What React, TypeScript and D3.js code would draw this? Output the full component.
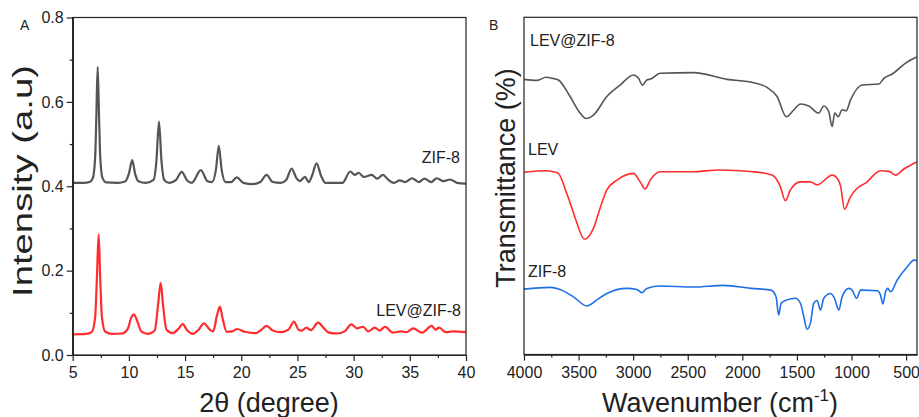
import React, { useEffect, useRef } from "react";
import * as d3 from "d3";

// XRD patterns (2theta, intensity a.u.)
const xrdZif8: [number, number][] = [
  [5.0, 0.408], [6.0, 0.408], [6.5, 0.41], [6.8, 0.42], [7.0, 0.47], [7.1, 0.56], [7.22, 0.683],
  [7.35, 0.56], [7.45, 0.47], [7.65, 0.42], [8.0, 0.409], [9.0, 0.408], [9.7, 0.412], [10.0, 0.43],
  [10.3, 0.462], [10.55, 0.43], [10.85, 0.412], [11.5, 0.408], [12.2, 0.415], [12.45, 0.46],
  [12.68, 0.553], [12.9, 0.46], [13.15, 0.415], [13.6, 0.408], [14.2, 0.415], [14.7, 0.434],
  [15.2, 0.413], [15.6, 0.408], [16.4, 0.438], [17.0, 0.412], [17.4, 0.41], [17.75, 0.44],
  [18.0, 0.496], [18.25, 0.44], [18.6, 0.41], [19.1, 0.41], [19.6, 0.421], [20.2, 0.408],
  [21.0, 0.405], [21.7, 0.41], [22.25, 0.427], [22.8, 0.41], [23.5, 0.408], [24.0, 0.415],
  [24.48, 0.442], [24.9, 0.42], [25.2, 0.412], [25.67, 0.422], [26.0, 0.41], [26.3, 0.425],
  [26.7, 0.454], [27.1, 0.425], [27.5, 0.408], [29.0, 0.408], [29.7, 0.435], [30.1, 0.427],
  [30.45, 0.432], [30.9, 0.422], [31.6, 0.427], [32.1, 0.418], [32.6, 0.427], [33.1, 0.415],
  [33.6, 0.408], [34.1, 0.414], [34.6, 0.41], [35.2, 0.419], [35.8, 0.41], [36.3, 0.418],
  [36.9, 0.41], [37.4, 0.419], [38.0, 0.412], [38.6, 0.416], [39.2, 0.408], [40.0, 0.406],
];

const xrdLevZif8: [number, number][] = [
  [5.0, 0.049], [6.2, 0.05], [6.7, 0.055], [7.0, 0.09], [7.15, 0.18], [7.31, 0.286], [7.45, 0.18],
  [7.6, 0.09], [7.9, 0.055], [8.5, 0.05], [9.4, 0.051], [9.9, 0.062], [10.2, 0.088], [10.45, 0.0965],
  [10.75, 0.08], [11.1, 0.056], [11.7, 0.05], [12.3, 0.058], [12.6, 0.12], [12.83, 0.171],
  [13.05, 0.115], [13.35, 0.06], [13.9, 0.052], [14.4, 0.062], [14.79, 0.073], [15.2, 0.058],
  [15.7, 0.05], [16.2, 0.06], [16.68, 0.075], [17.2, 0.06], [17.5, 0.056], [17.85, 0.095],
  [18.1, 0.1145], [18.35, 0.085], [18.7, 0.055], [19.2, 0.056], [19.65, 0.0616], [20.3, 0.055],
  [21.3, 0.052], [21.8, 0.06], [22.26, 0.069], [22.8, 0.058], [23.5, 0.054], [24.2, 0.06],
  [24.69, 0.079], [25.1, 0.06], [25.4, 0.058], [25.8, 0.065], [26.2, 0.059], [26.84, 0.0766],
  [27.3, 0.065], [27.8, 0.053], [28.5, 0.051], [29.2, 0.056], [29.8, 0.0727], [30.3, 0.063],
  [30.85, 0.067], [31.3, 0.056], [31.9, 0.065], [32.3, 0.058], [32.8, 0.067], [33.5, 0.053],
  [34.2, 0.056], [34.7, 0.054], [35.3, 0.063], [36.1, 0.053], [36.94, 0.069], [37.3, 0.06],
  [37.6, 0.065], [38.2, 0.054], [38.8, 0.056], [40.0, 0.054],
];

// FTIR spectra (wavenumber cm-1, transmittance, offset)
const irLevZif8: [number, number][] = [
  [4000, 81.6], [3880, 81.3], [3800, 82.2], [3740, 81.9], [3685, 81.4], [3578, 76.5], [3486, 71.6],
  [3431, 70.0], [3364, 71.0], [3241, 76.5], [3119, 79.9], [2997, 82.9], [2951, 81.9], [2915, 79.9],
  [2875, 81.4], [2840, 81.7], [2752, 83.4], [2447, 83.6], [2141, 81.6], [1896, 80.6], [1774, 79.2],
  [1682, 76.5], [1596, 70.5], [1529, 72.5], [1468, 74.3], [1392, 73.7], [1300, 71.6], [1254, 73.7],
  [1208, 72.0], [1178, 67.6], [1153, 71.6], [1122, 70.5], [1086, 72.6], [1049, 72.3], [1009, 75.5],
  [902, 79.9], [749, 80.2], [703, 81.9], [627, 83.2], [504, 86.4], [404, 88.2],
];

const irLev: [number, number][] = [
  [4000, 54.0], [3880, 54.4], [3800, 54.5], [3720, 54.1], [3685, 53.7], [3609, 47.8], [3570, 44.3],
  [3525, 39.9], [3447, 34.2], [3364, 37.4], [3303, 43.4], [3241, 48.8], [3149, 51.7], [2997, 53.7],
  [2936, 51.2], [2890, 49.1], [2844, 51.7], [2752, 54.2], [2447, 54.2], [2217, 54.7], [1900, 54.2],
  [1728, 53.2], [1651, 49.7], [1606, 45.6], [1560, 48.8], [1468, 51.2], [1376, 51.2], [1315, 50.3],
  [1177, 53.2], [1131, 52.3], [1099, 49.8], [1064, 43.1], [1009, 46.8], [948, 49.3], [872, 50.8],
  [734, 54.5], [658, 54.3], [597, 53.2], [520, 55.0], [404, 57.1],
];

const irZif8: [number, number][] = [
  [4000, 19.4], [3761, 19.9], [3670, 19.3], [3547, 17.1], [3425, 14.4], [3333, 16.2], [3241, 18.1],
  [3058, 19.6], [2966, 19.3], [2920, 18.3], [2875, 19.6], [2752, 20.3], [2447, 20.0], [2171, 20.5],
  [1920, 19.6], [1737, 19.1], [1691, 17.1], [1667, 11.7], [1645, 15.2], [1590, 16.2], [1514, 16.7],
  [1468, 15.2], [1437, 11.2], [1407, 7.5], [1376, 9.3], [1346, 15.2], [1315, 16.0], [1284, 13.2],
  [1254, 16.7], [1193, 18.1], [1156, 16.7], [1116, 13.2], [1086, 17.1], [1025, 19.6], [994, 19.1],
  [954, 16.7], [917, 19.1], [765, 18.9], [734, 17.6], [713, 15.0], [688, 18.6], [667, 19.6],
  [642, 18.6], [581, 22.1], [489, 26.0], [428, 28.0], [404, 27.9],
];

const xrdTicksX = [5, 10, 15, 20, 25, 30, 35, 40];
const xrdMinorX = [7.5, 12.5, 17.5, 22.5, 27.5, 32.5, 37.5];
const xrdTicksY = [0, 0.2, 0.4, 0.6, 0.8];
const xrdMinorY = [0.1, 0.3, 0.5, 0.7];
const irTicksX = [4000, 3500, 3000, 2500, 2000, 1500, 1000, 500];
const irMinorX = [3750, 3250, 2750, 2250, 1750, 1250, 750];

const FONT = "'Liberation Sans', Arial, sans-serif";
const INK = "#222";

const App = () => {
  const ref = useRef<SVGSVGElement>(null);

  useEffect(() => {
    const svg = d3.select(ref.current);
    svg.selectAll("*").remove();

    const styleAxis = (g: any) => {
      g.selectAll("path,line").attr("stroke", INK).attr("stroke-width", 1.2);
      g.selectAll("text").attr("font-family", FONT).attr("font-size", 16).attr("fill", INK);
    };

    // ---------- Panel A ----------
    const xA = d3.scaleLinear().domain([5, 40]).range([72.7, 466]);
    const yA = d3.scaleLinear().domain([0, 0.8]).range([355, 17.5]);

    const lineA = d3
      .line<[number, number]>()
      .x((d) => xA(d[0]))
      .y((d) => yA(d[1]))
      .curve(d3.curveMonotoneX);

    const gA = svg.append("g");
    gA.append("path").attr("d", lineA(xrdZif8)).attr("fill", "none").attr("stroke", "#555").attr("stroke-width", 2.2);
    gA.append("path").attr("d", lineA(xrdLevZif8)).attr("fill", "none").attr("stroke", "#ff2d2d").attr("stroke-width", 2.2);

    gA.append("rect")
      .attr("x", xA(5)).attr("y", yA(0.8))
      .attr("width", xA(40) - xA(5)).attr("height", yA(0) - yA(0.8))
      .attr("fill", "none").attr("stroke", INK).attr("stroke-width", 1.2);

    gA.append("g").attr("transform", `translate(0,${yA(0)})`)
      .call(d3.axisBottom(xA).tickValues(xrdTicksX).tickSize(6).tickSizeOuter(0).tickPadding(6).tickFormat(d3.format("d")))
      .call(styleAxis);
    gA.append("g").attr("transform", `translate(0,${yA(0)})`)
      .call(d3.axisBottom(xA).tickValues(xrdMinorX).tickSize(3).tickSizeOuter(0).tickFormat(() => ""))
      .call(styleAxis);
    gA.append("g").attr("transform", `translate(${xA(5)},0)`)
      .call(d3.axisLeft(yA).tickValues(xrdTicksY).tickSize(6).tickSizeOuter(0).tickPadding(3).tickFormat(d3.format(".1f")))
      .call(styleAxis);
    gA.append("g").attr("transform", `translate(${xA(5)},0)`)
      .call(d3.axisLeft(yA).tickValues(xrdMinorY).tickSize(3).tickSizeOuter(0).tickFormat(() => ""))
      .call(styleAxis);

    gA.append("text").text("A").attr("x", 20).attr("y", 30)
      .attr("font-family", FONT).attr("font-size", 14).attr("fill", INK);
    gA.append("text").text("ZIF-8").attr("x", 460).attr("y", 163).attr("text-anchor", "end")
      .attr("font-family", FONT).attr("font-size", 16).attr("fill", INK);
    gA.append("text").text("LEV@ZIF-8").attr("x", 461).attr("y", 316).attr("text-anchor", "end")
      .attr("font-family", FONT).attr("font-size", 16).attr("fill", INK);
    gA.append("text").text("2θ (degree)").attr("x", 269).attr("y", 412).attr("text-anchor", "middle")
      .attr("font-family", FONT).attr("font-size", 27).attr("fill", INK);
    gA.append("text").text("Intensity (a.u)")
      .attr("transform", "translate(32,181) rotate(-90)").attr("text-anchor", "middle")
      .attr("textLength", 232).attr("lengthAdjust", "spacingAndGlyphs")
      .attr("font-family", FONT).attr("font-size", 27).attr("fill", INK);

    // ---------- Panel B ----------
    const xB = d3.scaleLinear().domain([4000, 400]).range([524, 917]);
    const yB = d3.scaleLinear().domain([0, 100]).range([354.5, 17.3]);

    const lineB = d3
      .line<[number, number]>()
      .x((d) => xB(d[0]))
      .y((d) => yB(d[1]))
      .curve(d3.curveMonotoneX);

    const gB = svg.append("g");
    gB.append("path").attr("d", lineB(irLevZif8)).attr("fill", "none").attr("stroke", "#555").attr("stroke-width", 1.6);
    gB.append("path").attr("d", lineB(irLev)).attr("fill", "none").attr("stroke", "#ff2d2d").attr("stroke-width", 1.6);
    gB.append("path").attr("d", lineB(irZif8)).attr("fill", "none").attr("stroke", "#1f6fe6").attr("stroke-width", 1.6);

    gB.append("rect")
      .attr("x", xB(4000)).attr("y", yB(100))
      .attr("width", xB(400) - xB(4000)).attr("height", yB(0) - yB(100))
      .attr("fill", "none").attr("stroke", INK).attr("stroke-width", 1.2);

    gB.append("g").attr("transform", `translate(0,${yB(0)})`)
      .call(d3.axisBottom(xB).tickValues(irTicksX).tickSize(6).tickSizeOuter(0).tickPadding(6).tickFormat(d3.format("d")))
      .call(styleAxis);
    gB.append("g").attr("transform", `translate(0,${yB(0)})`)
      .call(d3.axisBottom(xB).tickValues(irMinorX).tickSize(3).tickSizeOuter(0).tickFormat(() => ""))
      .call(styleAxis);

    gB.append("text").text("B").attr("x", 489).attr("y", 30)
      .attr("font-family", FONT).attr("font-size", 14).attr("fill", INK);
    gB.append("text").text("LEV@ZIF-8").attr("x", 530).attr("y", 46)
      .attr("font-family", FONT).attr("font-size", 16).attr("fill", INK);
    gB.append("text").text("LEV").attr("x", 528).attr("y", 155)
      .attr("font-family", FONT).attr("font-size", 16).attr("fill", INK);
    gB.append("text").text("ZIF-8").attr("x", 528).attr("y", 277)
      .attr("font-family", FONT).attr("font-size", 16).attr("fill", INK);

    const wl = gB.append("text").attr("x", 720).attr("y", 412).attr("text-anchor", "middle")
      .attr("font-family", FONT).attr("font-size", 27).attr("fill", INK);
    wl.append("tspan").text("Wavenumber (cm");
    wl.append("tspan").text("-1").attr("font-size", 17).attr("dy", -11);
    wl.append("tspan").text(")").attr("dy", 11);

    gB.append("text").text("Transmittance (%)")
      .attr("transform", "translate(515,178) rotate(-90)").attr("text-anchor", "middle")
      .attr("font-family", FONT).attr("font-size", 27).attr("fill", INK);
  }, []);

  return (
    <svg
      ref={ref}
      width={919}
      height={417}
      style={{ position: "absolute", left: 0, top: 0, background: "#fff" }}
    />
  );
};

export default App;
